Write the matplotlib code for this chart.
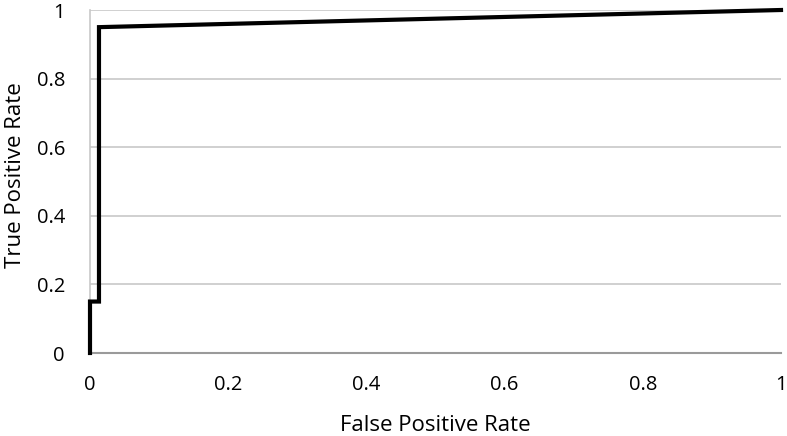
import numpy as np
import matplotlib
matplotlib.use("Agg")
import matplotlib.pyplot as plt

# ROC curve points
fpr = [0.0, 0.0, 0.013, 0.013, 1.0]
tpr = [0.0, 0.15, 0.15, 0.95, 1.0]

ticks = [0, 0.2, 0.4, 0.6, 0.8, 1]
tick_labels = ["0", "0.2", "0.4", "0.6", "0.8", "1"]

plt.rcParams["font.family"] = ["Open Sans", "DejaVu Sans"]

fig = plt.figure(figsize=(7.87, 4.36), dpi=100)
ax = fig.add_axes([90 / 787, 83 / 436, 691 / 787, 343 / 436])

ax.plot(fpr, tpr, color="black", linewidth=3, solid_joinstyle="miter",
        zorder=3, clip_on=False)

ax.set_xlim(0, 1)
ax.set_ylim(0, 1)
ax.set_xticks(ticks)
ax.set_xticklabels(tick_labels)
ax.set_yticks(ticks)
ax.set_yticklabels(tick_labels)
ax.tick_params(length=0, labelsize=14.5, colors="black")
ax.tick_params(axis="y", pad=18)
ax.tick_params(axis="x", pad=16)

ax.yaxis.grid(True, color="#c8c8c8", linewidth=1.2)
ax.set_axisbelow(True)
for s in ["top", "right"]:
    ax.spines[s].set_visible(False)
ax.spines["left"].set_color("#c8c8c8")
ax.spines["left"].set_linewidth(1.2)
ax.spines["bottom"].set_color("#9a9a9a")
ax.spines["bottom"].set_linewidth(1.5)

ax.set_xlabel("False Positive Rate", fontsize=16, labelpad=14)
ax.set_ylabel("True Positive Rate", fontsize=16, va="center")
ax.yaxis.set_label_coords(-0.108, 0.52)

fig.savefig("out.png", dpi=100)
